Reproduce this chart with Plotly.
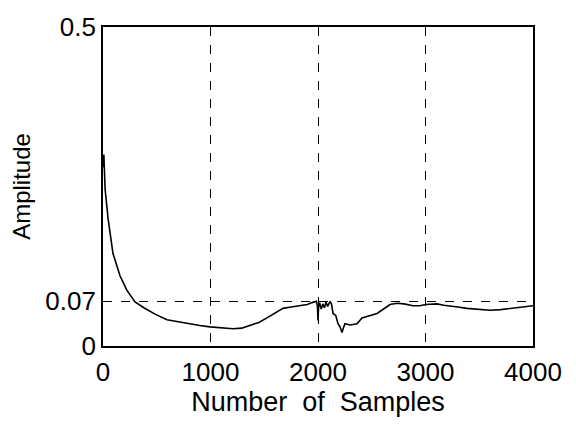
import plotly.graph_objects as go

x_samples = [0, 8, 20, 47, 93, 158, 220, 298, 380, 484, 595, 750, 900, 995, 1100, 1210,
             1290, 1367, 1450, 1525, 1600, 1674, 1750, 1833, 1900, 1944, 1985, 1995, 2000, 2005,
             2015, 2030, 2045, 2060, 2075, 2090, 2112, 2125, 2140, 2165, 2186, 2205, 2223, 2240,
             2251, 2300, 2363, 2409, 2480, 2549, 2610, 2670, 2735, 2800, 2884, 2949, 3000, 3070,
             3107, 3170, 3228, 3300, 3386, 3500, 3600, 3700, 3786, 3900, 4000]
amplitude = [0.28, 0.30, 0.245, 0.20, 0.145, 0.11, 0.088, 0.069, 0.060, 0.050, 0.041,
             0.036, 0.032, 0.030, 0.028, 0.027, 0.028, 0.032, 0.037, 0.044, 0.051, 0.059, 0.061,
             0.063, 0.065, 0.068, 0.070, 0.062, 0.040, 0.060, 0.068, 0.058, 0.066, 0.060, 0.069,
             0.062, 0.070, 0.066, 0.051, 0.048, 0.035, 0.030, 0.021, 0.030, 0.035, 0.033, 0.035,
             0.044, 0.047, 0.051, 0.058, 0.065, 0.067, 0.066, 0.063, 0.063, 0.065, 0.066, 0.066,
             0.064, 0.063, 0.061, 0.059, 0.057, 0.056, 0.057, 0.059, 0.061, 0.063]

x_ticks = [0, 1000, 2000, 3000, 4000]
y_ticks = [0, 0.07, 0.5]
y_tick_labels = ["0", "0.07", "0.5"]
x_title = "Number  of  Samples"
y_title = "Amplitude"

fig = go.Figure()
fig.add_trace(go.Scatter(x=x_samples, y=amplitude, mode="lines",
                         line=dict(color="black", width=1.6), showlegend=False))

font_family = "Liberation Sans, Arial, sans-serif"
fig.update_layout(
    width=576, height=425,
    margin=dict(l=103, r=43, t=14, b=79),
    paper_bgcolor="white", plot_bgcolor="white",
    font=dict(family=font_family, color="black"),
)
fig.update_xaxes(
    range=[0, 4000], tickvals=x_ticks, ticktext=[str(v) for v in x_ticks],
    showgrid=True, gridcolor="black", griddash="dash", gridwidth=1,
    showline=True, linecolor="black", linewidth=1.8, mirror=True,
    zeroline=False, ticks="", tickfont=dict(size=26), ticklabeloverflow="allow",
    ticklabelstandoff=2,
    title=dict(text=x_title, font=dict(size=27), standoff=0),
)
fig.update_yaxes(
    range=[0, 0.5], tickvals=y_ticks, ticktext=y_tick_labels,
    showgrid=True, gridcolor="black", griddash="dash", gridwidth=1,
    showline=True, linecolor="black", linewidth=1.8, mirror=True,
    zeroline=False, ticks="", tickfont=dict(size=26), ticklabeloverflow="allow",
    title=dict(text=y_title, font=dict(size=24), standoff=8),
)

fig.write_html("out.html")
